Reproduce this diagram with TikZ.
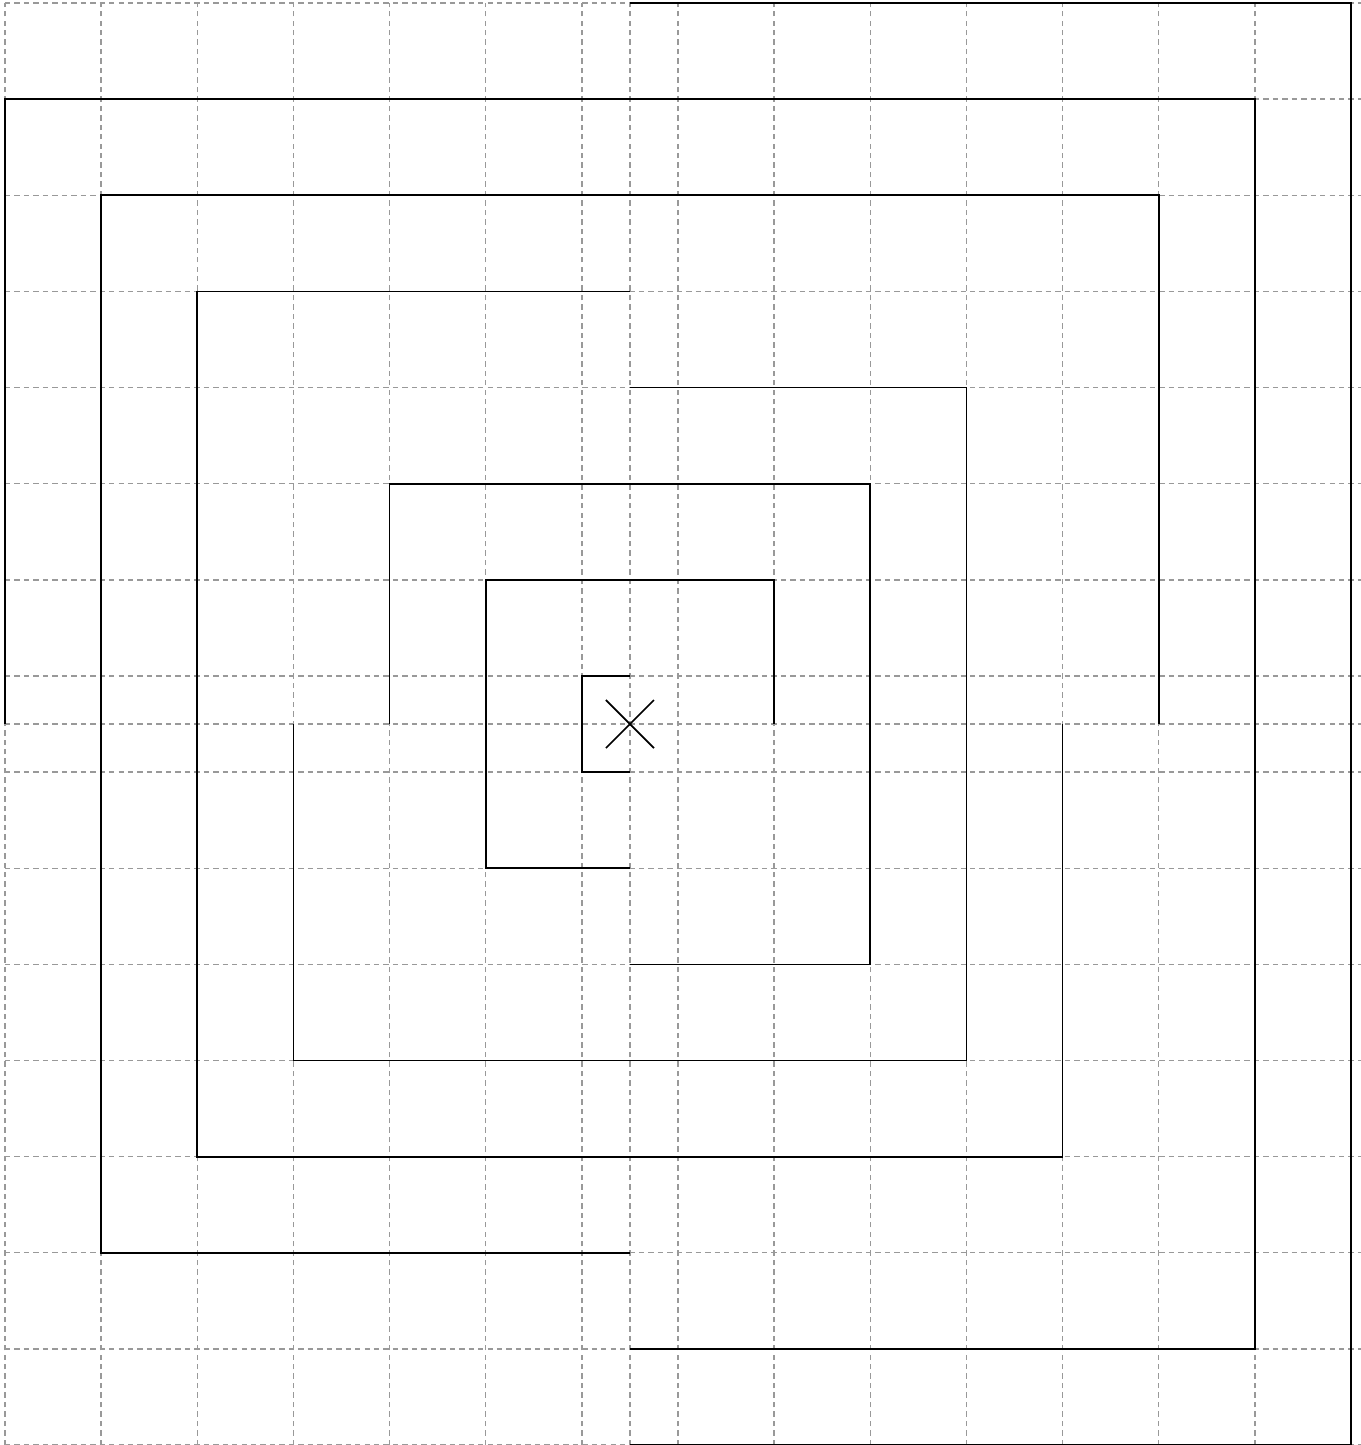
\documentclass[tikz,border=0pt]{standalone}
\usepackage{tikz}

\begin{document}
\begin{tikzpicture}[x=1cm,y=1cm,
    gridline/.style={gray!80, line width=0.4pt, dash pattern=on 1.6pt off 1.2pt},
    wall/.style={black, line width=0.5pt}]
    \useasboundingbox (-6.552,-7.499) rectangle (7.604,7.531);

    % Grid (half-unit offset) and the two axes
    \foreach \x in {-6.5,-5.5,...,7.5} \draw[gridline] (\x,-7.5) -- (\x,7.5);
    \foreach \y in {-7.5,-6.5,...,7.5} \draw[gridline] (-6.5,\y) -- (7.6,\y);
    \draw[gridline] (0,-7.5) -- (0,7.5);
    \draw[gridline] (-6.5,0) -- (7.6,0);

    % Centre mark
    \draw[wall] (-0.25,0.25) -- (0.25,-0.25);
    \draw[wall] (-0.25,-0.25) -- (0.25,0.25);

    % Spiral, from the inside out
    \draw[wall] (0,0.5) -- (-0.5,0.5) -- (-0.5,-0.5) -- (0,-0.5);
    \draw[wall] (0,-1.5) -- (-1.5,-1.5) -- (-1.5,1.5) -- (1.5,1.5) -- (1.5,0);
    \draw[wall] (-2.5,0) -- (-2.5,2.5) -- (2.5,2.5) -- (2.5,-2.5) -- (0,-2.5);
    \draw[wall] (0,3.5) -- (3.5,3.5) -- (3.5,-3.5) -- (-3.5,-3.5) -- (-3.5,0);
    \draw[wall] (0,4.5) -- (-4.5,4.5) -- (-4.5,-4.5) -- (4.5,-4.5) -- (4.5,0);
    \draw[wall] (5.5,0) -- (5.5,5.5) -- (-5.5,5.5) -- (-5.5,-5.5) -- (0,-5.5);
    \draw[wall] (0,-6.5) -- (6.5,-6.5) -- (6.5,6.5) -- (-6.5,6.5) -- (-6.5,0);
    \draw[wall] (0,7.5) -- (7.5,7.5) -- (7.5,-7.5) -- (0,-7.5);
\end{tikzpicture}
\end{document}
